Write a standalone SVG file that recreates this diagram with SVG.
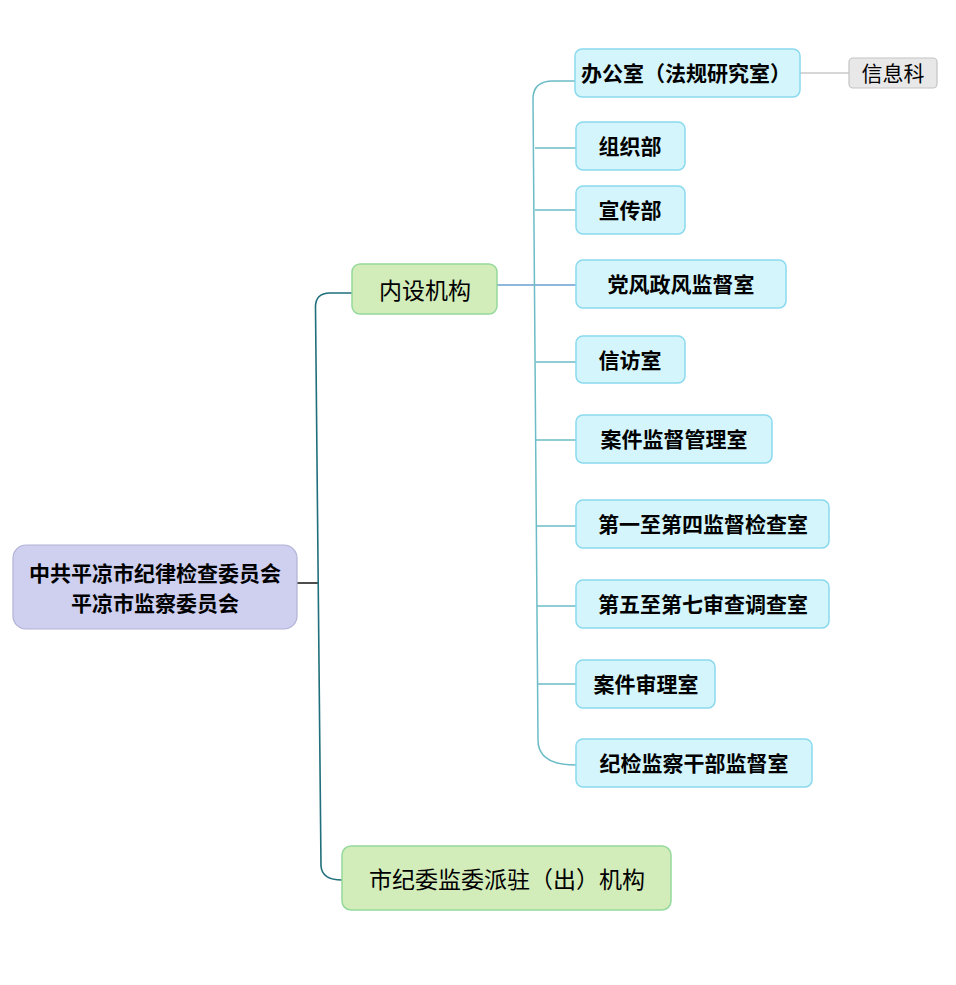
<svg xmlns="http://www.w3.org/2000/svg" width="956" height="985" viewBox="0 0 956 985">
<style>
.t{font-family:"Noto Sans CJK SC","Liberation Sans",sans-serif;fill:#000;text-anchor:middle;dominant-baseline:central}
.b{font-weight:bold;font-size:21px}
.n{font-size:23px}
.blue{fill:#d4f5fb;stroke:#8ad9ee;stroke-width:1.5}
.green{fill:#d2ecba;stroke:#95d99b;stroke-width:1.5}
.c{fill:none;stroke:#6bbcc6;stroke-width:1.5}
.m{fill:none;stroke:#1f6f7c;stroke-width:1.6}
</style>
<rect width="956" height="985" fill="#fff"/>
<g id="connectors">
<path d="M297,583 H318" fill="none" stroke="#000" stroke-width="1.4"/>
<path class="m" d="M352,293 H330 Q315,293 315.5,308 L321,866 Q322,880 342,880"/>
<path d="M497,285 H576" fill="none" stroke="#6a9fcf" stroke-width="1.5"/>
<path class="c" d="M575,81 H553 Q533,81 533,99 L538,740 Q538,765 576,765"/>
<path class="c" d="M535,148 H576 M535,210 H576 M536,362 H576 M536,440 H576 M536,526 H576 M537,606 H576 M537,684 H576"/>
<path d="M800,73 H849" fill="none" stroke="#c8c8c8" stroke-width="1.5"/>
</g>
<g id="root">
<rect x="13" y="545" width="284" height="84" rx="13" fill="#cfd0f0" stroke="#b2b2d6" stroke-width="1.2"/>
<text class="t b" x="155" y="572">中共平凉市纪律检查委员会</text>
<text class="t b" x="155" y="602">平凉市监察委员会</text>
</g>
<g id="neishe">
<rect class="green" x="352" y="264" width="145" height="50" rx="8"/>
<text class="t n" x="425" y="289">内设机构</text>
</g>
<g id="paizhu">
<rect class="green" x="342" y="846" width="329" height="64" rx="9"/>
<text class="t n" x="507" y="878">市纪委监委派驻（出）机构</text>
</g>
<g id="bangongshi">
<rect class="blue" x="575" y="49" width="225" height="48" rx="7"/>
<text class="t b" x="686" y="72">办公室（法规研究室）</text>
</g>
<g id="xinxike">
<rect x="849" y="58" width="88" height="30" rx="4" fill="#e8e8e8" stroke="#c4c4c4" stroke-width="1.2"/>
<text class="t" x="893" y="72" font-size="21">信息科</text>
</g>
<g id="zuzhibu">
<rect class="blue" x="576" y="122" width="109" height="48" rx="7"/>
<text class="t b" x="630" y="145">组织部</text>
</g>
<g id="xuanchuanbu">
<rect class="blue" x="576" y="186" width="109" height="48" rx="7"/>
<text class="t b" x="630" y="209">宣传部</text>
</g>
<g id="dangfeng">
<rect class="blue" x="576" y="260" width="210" height="48" rx="7"/>
<text class="t b" x="681" y="283">党风政风监督室</text>
</g>
<g id="xinfang">
<rect class="blue" x="576" y="336" width="109" height="47" rx="7"/>
<text class="t b" x="630" y="359">信访室</text>
</g>
<g id="anjianjiandu">
<rect class="blue" x="576" y="415" width="196" height="48" rx="7"/>
<text class="t b" x="674" y="438">案件监督管理室</text>
</g>
<g id="jiancha">
<rect class="blue" x="576" y="500" width="253" height="48" rx="7"/>
<text class="t b" x="703" y="523">第一至第四监督检查室</text>
</g>
<g id="shencha">
<rect class="blue" x="576" y="580" width="253" height="48" rx="7"/>
<text class="t b" x="703" y="603">第五至第七审查调查室</text>
</g>
<g id="shenli">
<rect class="blue" x="576" y="660" width="139" height="48" rx="7"/>
<text class="t b" x="646" y="683">案件审理室</text>
</g>
<g id="ganbu">
<rect class="blue" x="576" y="739" width="236" height="48" rx="7"/>
<text class="t b" x="694" y="762">纪检监察干部监督室</text>
</g>
</svg>
